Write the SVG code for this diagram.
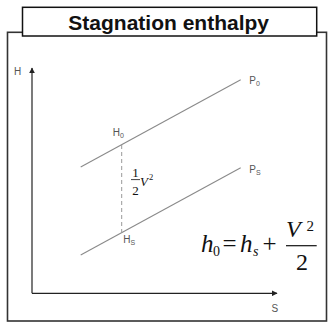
<svg xmlns="http://www.w3.org/2000/svg" width="328" height="325" viewBox="0 0 328 325">
<style>
.lbl{font-family:"Liberation Sans",Arial,sans-serif;font-size:10px;fill:#555}
.sub{font-size:7px}
.curve{stroke:#8a8a8a;stroke-width:1.1;fill:none}
.axis{stroke:#222;stroke-width:1.2;fill:none}
.math{font-family:"Liberation Serif","Times New Roman",serif;fill:#111}
</style>
<defs>
<marker id="arr" viewBox="0 0 10 10" refX="9" refY="5" markerWidth="6" markerHeight="6" markerUnits="userSpaceOnUse" orient="auto">
<path d="M0,0 L10,5 L0,10 z" fill="#222"/>
</marker>
</defs>
<rect x="7.5" y="32.3" width="319" height="288.7" fill="#fff" stroke="#333" stroke-width="1.6"/>
<g id="title">
<rect x="22.5" y="7.3" width="294.2" height="28.7" fill="#fff" stroke="#111" stroke-width="1.5"/>
<text x="168.7" y="30" text-anchor="middle" font-family="'Liberation Sans',Arial,sans-serif" font-size="21" font-weight="bold" fill="#111">Stagnation enthalpy</text>
</g>
<g id="axes">
<line class="axis" x1="32" y1="293.3" x2="32" y2="68" marker-end="url(#arr)"/>
<line class="axis" x1="32" y1="293.3" x2="277" y2="293.3" marker-end="url(#arr)"/>
<text class="lbl" x="14" y="74.5" font-size="11">H</text>
<text class="lbl" x="271.5" y="311.5" font-size="11">S</text>
</g>
<g id="connectors">
<line class="curve" x1="80.7" y1="167" x2="240.7" y2="79.7"/>
<line class="curve" x1="80.7" y1="255" x2="240.7" y2="167.7"/>
<line x1="121.7" y1="145" x2="121.7" y2="232.6" stroke="#999" stroke-width="1" stroke-dasharray="4,3"/>
</g>
<g id="P0"><text class="lbl" x="249.3" y="84">P<tspan class="sub" dy="1.5">0</tspan></text></g>
<g id="Ps"><text class="lbl" x="249.3" y="173.3">P<tspan class="sub" dy="1.5">S</tspan></text></g>
<g id="H0"><text class="lbl" x="112.7" y="136">H<tspan class="sub" dy="1.5">0</tspan></text></g>
<g id="Hs"><text class="lbl" x="123.3" y="243.3">H<tspan class="sub" dy="1.5">S</tspan></text></g>
<g id="half-v2">
<text class="math" x="135.5" y="176.5" font-size="13" text-anchor="middle">1</text>
<line x1="131" y1="179.6" x2="140" y2="179.6" stroke="#111" stroke-width="0.8"/>
<text class="math" x="135.5" y="195" font-size="13" text-anchor="middle">2</text>
<text class="math" x="140" y="186" font-size="13" font-style="italic">V</text>
<text class="math" x="149" y="180" font-size="8.5">2</text>
</g>
<g id="equation">
<text class="math" x="201" y="251.7" font-size="25" font-style="italic">h</text>
<text class="math" x="213" y="255.5" font-size="14">0</text>
<text class="math" x="222.5" y="251.7" font-size="25">=</text>
<text class="math" x="240" y="251.7" font-size="25" font-style="italic">h</text>
<text class="math" x="253" y="255.5" font-size="14" font-style="italic">s</text>
<text class="math" x="262.5" y="251.7" font-size="25">+</text>
<text class="math" x="286" y="236.7" font-size="24" font-style="italic">V</text>
<text class="math" x="306.5" y="231" font-size="15">2</text>
<line x1="286" y1="245.7" x2="316.7" y2="245.7" stroke="#111" stroke-width="1.2"/>
<text class="math" x="302" y="270" font-size="24" text-anchor="middle">2</text>
</g>
</svg>
